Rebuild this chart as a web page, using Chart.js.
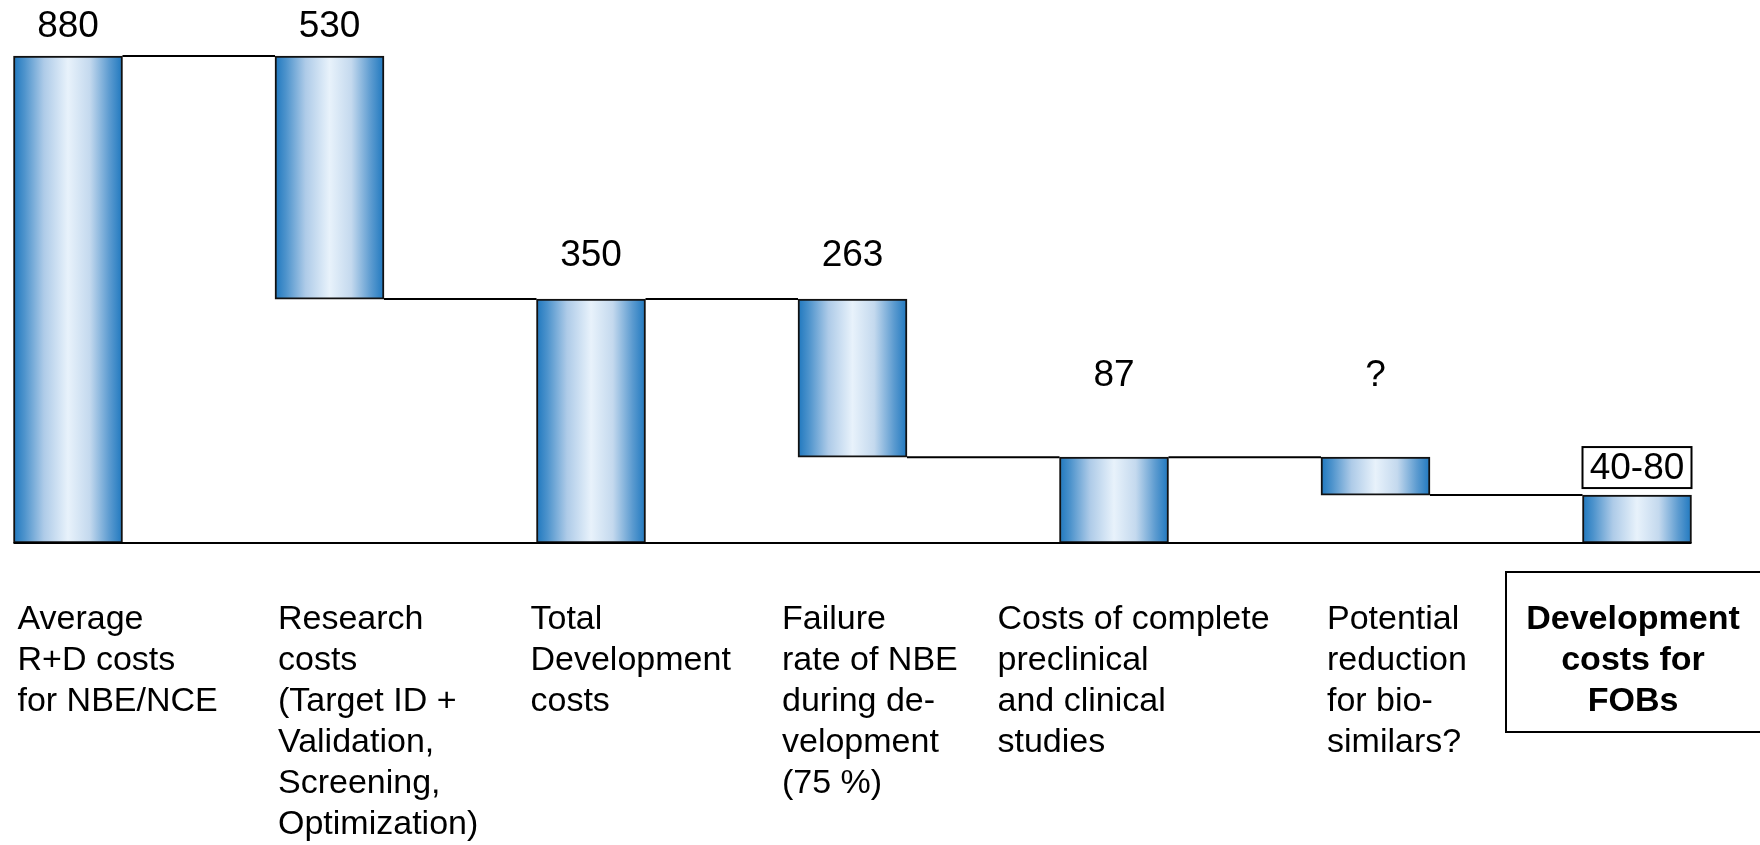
<!DOCTYPE html>
<html>
<head>
<meta charset="utf-8">
<title>Development costs for FOBs</title>
<script src="https://cdn.jsdelivr.net/npm/chart.js@4.4.1/dist/chart.umd.min.js"></script>
<style>
  html, body { margin: 0; padding: 0; background: #ffffff; }
  #wrap { width: 1760px; height: 845px; position: relative; }
</style>
</head>
<body>
<div id="wrap"><canvas id="chart"></canvas></div>
<script>
// ---- data ----
const categoryLines = [
  ["Average", "R+D costs", "for NBE/NCE"],
  ["Research", "costs", "(Target ID +", "Validation,", "Screening,", "Optimization)"],
  ["Total", "Development", "costs"],
  ["Failure", "rate of NBE", "during de-", "velopment", "(75 %)"],
  ["Costs of complete", "preclinical", "and clinical", "studies"],
  ["Potential", "reduction", "for bio-", "similars?"],
  ["Development", "costs for", "FOBs"]
];
const stepLabels = ["880", "530", "350", "263", "87", "?", "40-80"];
// each bar runs from its low level to its high level (in cost units)
const barLow  = [0, 350, 0, 87, 0, 40, 0];
const barHigh = [880, 880, 350, 350, 87, 87, 40];

// ---- appearance ----
const FONT = '"Liberation Sans", Arial, Helvetica, sans-serif';
const BAR_W = 109;
const EXPONENT = 0.75;           // power value axis (schematic compression)

// Value axis with a power transform: pixel ~ value^EXPONENT
class PowerScale extends Chart.LinearScale {
  _t(v) { return Math.pow(Math.max(v, 0), EXPONENT); }
  getPixelForValue(value) {
    if (value === null || value === undefined || isNaN(value)) return NaN;
    const lo = this._t(this.min), hi = this._t(this.max);
    return this.getPixelForDecimal((this._t(value) - lo) / (hi - lo));
  }
  getValueForPixel(pixel) {
    const lo = this._t(this.min), hi = this._t(this.max);
    const d = lo + this.getDecimalForPixel(pixel) * (hi - lo);
    return Math.pow(Math.max(d, 0), 1 / EXPONENT);
  }
}
PowerScale.id = 'power';
PowerScale.defaults = Chart.LinearScale.defaults;
Chart.register(PowerScale);

// cylinder-like horizontal shading for each bar
function barGradient(c) {
  const chart = c.chart;
  const xs = chart.scales && chart.scales.x;
  if (!chart.chartArea || !xs || c.dataIndex === undefined) return '#2a7fc2';
  const cx = xs.getPixelForValue(c.dataIndex);
  const g = chart.ctx.createLinearGradient(cx - BAR_W / 2, 0, cx + BAR_W / 2, 0);
  g.addColorStop(0.00, '#1f78bf');
  g.addColorStop(0.10, '#4d93cc');
  g.addColorStop(0.28, '#aecbe8');
  g.addColorStop(0.50, '#e8f2fb');
  g.addColorStop(0.70, '#c4d9ee');
  g.addColorStop(0.88, '#5c9bd0');
  g.addColorStop(1.00, '#1f78bf');
  return g;
}

// connectors, value labels and category captions
const waterfallDecor = {
  id: 'waterfallDecor',
  afterDatasetsDraw(chart, args, opts) {
    const ctx = chart.ctx;
    const ys = chart.scales.y;
    const bars = chart.getDatasetMeta(0).data;
    const n = bars.length;
    const left = (el) => el.x - el.width / 2;
    const right = (el) => el.x + el.width / 2;

    ctx.save();
    ctx.strokeStyle = '#000';
    ctx.lineWidth = 2;
    const hline = (x1, x2, y) => {
      ctx.beginPath(); ctx.moveTo(x1, y); ctx.lineTo(x2, y); ctx.stroke();
    };
    // baseline under all bars
    const y0 = ys.getPixelForValue(0);
    hline(left(bars[0]), right(bars[n - 1]), y0);
    // step connectors between neighbouring bars
    for (let i = 0; i < n - 1; i++) {
      const y = ys.getPixelForValue(barHigh[i + 1]);
      hline(right(bars[i]), left(bars[i + 1]), y);
    }

    // value labels above bars
    ctx.fillStyle = '#000';
    ctx.textAlign = 'center';
    ctx.textBaseline = 'middle';
    ctx.font = opts.valueFontSize + 'px ' + FONT;
    for (let i = 0; i < n; i++) {
      const el = bars[i];
      const top = ys.getPixelForValue(barHigh[i]);
      if (i === n - 1) {
        const bh = opts.valueBoxHeight;
        const by = top - opts.valueBoxGap - bh;
        ctx.fillStyle = '#fff';
        ctx.fillRect(left(el), by, el.width, bh);
        ctx.strokeRect(left(el), by, el.width, bh);
        ctx.fillStyle = '#000';
        ctx.fillText(stepLabels[i], el.x, by + bh / 2 + 1);
      } else {
        ctx.fillText(stepLabels[i], el.x, top - opts.valueLift[i]);
      }
    }

    // category captions below the baseline
    const lh = opts.lineHeight;
    const firstY = opts.captionTop;
    for (let i = 0; i < n; i++) {
      const el = bars[i];
      const lines = categoryLines[i];
      if (i === n - 1) {
        ctx.font = 'bold ' + opts.captionFontSize + 'px ' + FONT;
        ctx.textAlign = 'center';
        const bx = el.x - opts.boxHalfWidth;
        ctx.strokeRect(bx, opts.boxTop, chart.width - bx + 10, opts.boxBottom - opts.boxTop);
        lines.forEach((t, k) => ctx.fillText(t, el.x - 4, firstY + k * lh));
      } else {
        ctx.font = opts.captionFontSize + 'px ' + FONT;
        ctx.textAlign = 'left';
        const x = left(el) + opts.captionShift[i];
        lines.forEach((t, k) => ctx.fillText(t, x, firstY + k * lh));
      }
    }
    ctx.restore();
  }
};

new Chart(document.getElementById('chart'), {
  type: 'bar',
  data: {
    labels: categoryLines.map(l => l.join(' ')),
    datasets: [{
      data: barLow.map((lo, i) => [lo, barHigh[i]]),
      backgroundColor: barGradient,
      borderColor: '#111111',
      borderWidth: 2,
      borderSkipped: false,
      barThickness: BAR_W,
      clip: false
    }]
  },
  options: {
    responsive: true,
    maintainAspectRatio: false,
    animation: false,
    layout: { padding: { left: 68, right: 123, top: 56, bottom: 302 } },
    scales: {
      x: { type: 'category', offset: false, display: false },
      y: { type: 'power', min: 0, max: 880, display: false }
    },
    plugins: {
      legend: { display: false },
      tooltip: { enabled: false },
      waterfallDecor: {
        valueFontSize: 37,
        valueLift: [29, 29, 43, 43, 81, 81],
        valueBoxHeight: 41,
        valueBoxGap: 7,
        captionFontSize: 34,
        captionTop: 620,
        lineHeight: 41,
        captionShift: [4, 3, -6, -16, -62, 6],
        boxHalfWidth: 131,
        boxTop: 572,
        boxBottom: 732
      }
    }
  },
  plugins: [waterfallDecor]
});
</script>
</body>
</html>
